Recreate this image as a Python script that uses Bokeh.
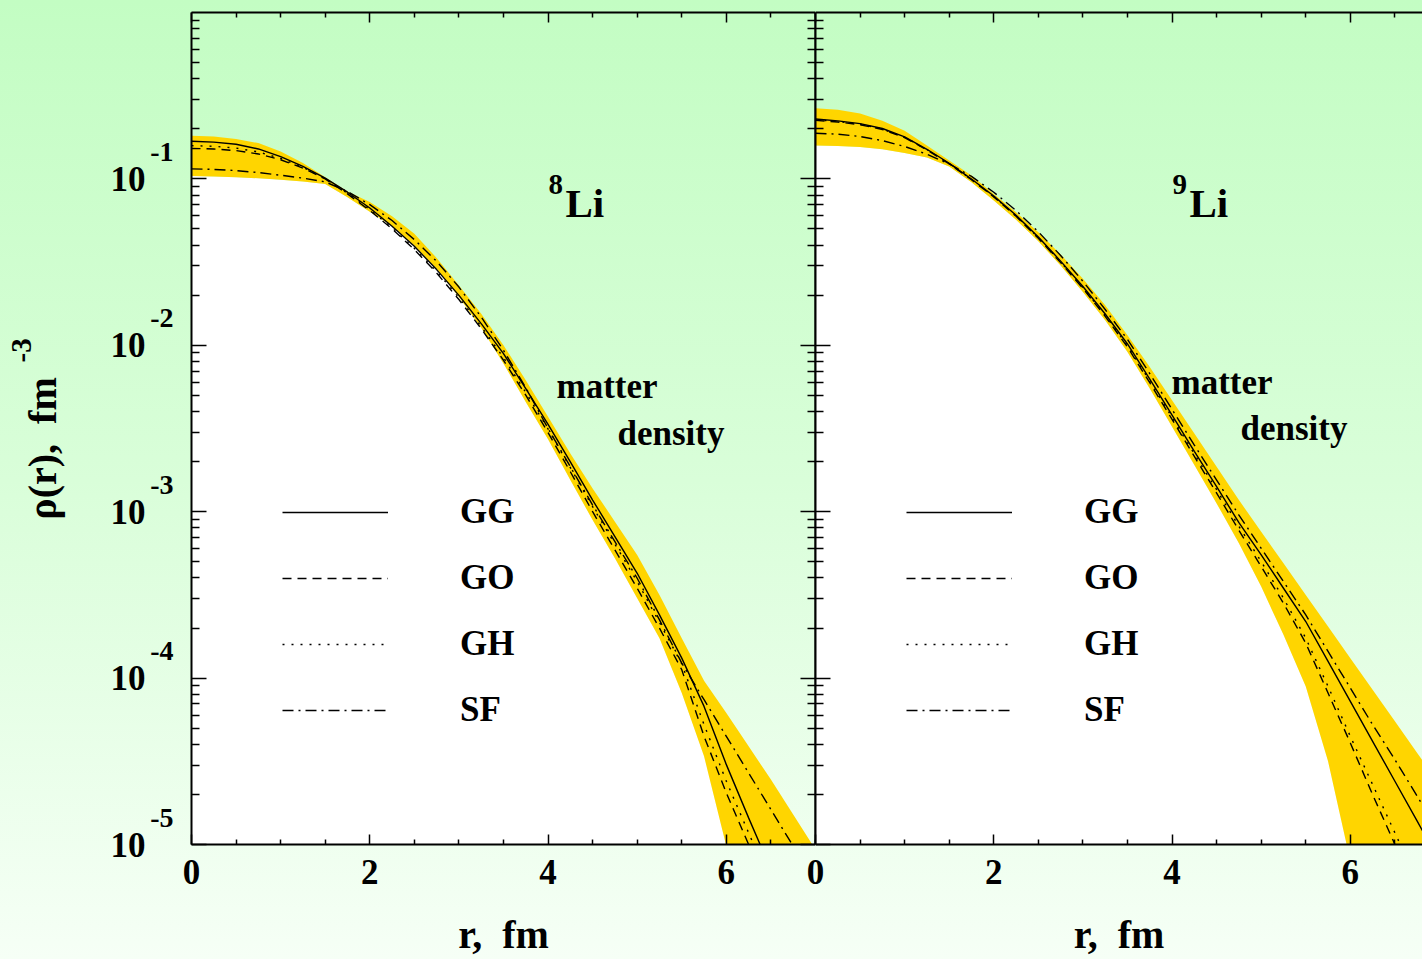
from bokeh.plotting import figure
from bokeh.models import (Range1d, FixedTicker, LinearAxis, LogAxis, Label, Title,
                          Legend, LegendItem)
from bokeh.layouts import row
from bokeh.embed import file_html
from bokeh.resources import INLINE

FONT = "Liberation Serif"
BAND_COLOR = "#FFD500"
GRADIENT = "linear-gradient(to bottom, #c3fdc3 0%, #d9fed9 50%, #f6fff6 100%)"
NBSP = "\u00a0"

# ---------------- data (log10 of rho [fm^-3]) ----------------
r_fm = [0.0, 0.25, 0.5, 0.75, 1.0, 1.25, 1.5, 1.75, 2.0, 2.25, 2.5, 2.75, 3.0, 3.25,
        3.5, 3.75, 4.0, 4.25, 4.5, 4.75, 5.0, 5.25, 5.5, 5.75, 6.0, 6.25, 6.5, 6.75, 7.0]

li8_band_hi = [-0.740, -0.745, -0.760, -0.785, -0.835, -0.905, -0.990, -1.076, -1.139, -1.225,
               -1.330, -1.475, -1.640, -1.810, -2.000, -2.210, -2.430, -2.650, -2.860, -3.060,
               -3.260, -3.500, -3.760, -4.016, -4.210, -4.410, -4.610, -4.820, -5.030]
li8_band_lo = [-0.983, -0.985, -0.990, -0.996, -1.005, -1.015, -1.030, -1.110, -1.197, -1.283,
               -1.400, -1.540, -1.710, -1.895, -2.110, -2.340, -2.565, -2.810, -3.050, -3.280,
               -3.520, -3.760, -4.090, -4.470, -5.010, -5.600, -6.200, -6.800, -7.400]
li8_gg = [-0.774, -0.779, -0.792, -0.820, -0.866, -0.925, -0.995, -1.080, -1.175, -1.285,
          -1.405, -1.545, -1.700, -1.870, -2.050, -2.260, -2.475, -2.700, -2.930, -3.150,
          -3.370, -3.620, -3.880, -4.170, -4.520, -4.840, -5.150, -5.450, -5.750]
li8_go = [-0.817, -0.820, -0.830, -0.850, -0.885, -0.935, -1.000, -1.090, -1.190, -1.300,
          -1.425, -1.565, -1.725, -1.900, -2.090, -2.300, -2.525, -2.760, -3.000, -3.230,
          -3.460, -3.700, -3.950, -4.350, -4.690, -5.000, -5.320, -5.640, -5.960]
li8_gh = [-0.800, -0.804, -0.815, -0.838, -0.877, -0.930, -0.998, -1.086, -1.184, -1.294,
          -1.417, -1.556, -1.714, -1.887, -2.074, -2.283, -2.503, -2.735, -2.970, -3.195,
          -3.420, -3.665, -3.915, -4.280, -4.620, -4.930, -5.240, -5.550, -5.860]
li8_sf = [-0.940, -0.943, -0.950, -0.962, -0.978, -0.995, -1.018, -1.075, -1.155, -1.250,
          -1.365, -1.495, -1.650, -1.830, -2.030, -2.255, -2.500, -2.730, -2.960, -3.180,
          -3.400, -3.650, -3.910, -4.130, -4.350, -4.570, -4.790, -5.010, -5.230]

li9_band_hi = [-0.576, -0.585, -0.607, -0.650, -0.710, -0.800, -0.890, -0.980, -1.090, -1.200,
               -1.320, -1.455, -1.600, -1.760, -1.940, -2.130, -2.330, -2.530, -2.730, -2.930,
               -3.120, -3.310, -3.500, -3.690, -3.880, -4.070, -4.260, -4.450, -4.640]
li9_band_lo = [-0.799, -0.802, -0.808, -0.822, -0.845, -0.872, -0.925, -1.020, -1.130, -1.245,
               -1.375, -1.520, -1.680, -1.850, -2.040, -2.260, -2.490, -2.720, -2.950, -3.190,
               -3.450, -3.740, -4.050, -4.500, -5.100, -5.700, -6.300, -6.900, -7.500]
li9_gg = [-0.640, -0.651, -0.668, -0.697, -0.747, -0.822, -0.906, -1.001, -1.103, -1.219,
          -1.349, -1.494, -1.647, -1.812, -1.992, -2.203, -2.420, -2.637, -2.849, -3.066,
          -3.260, -3.460, -3.660, -3.900, -4.140, -4.380, -4.620, -4.860, -5.100]
li9_go = [-0.648, -0.658, -0.674, -0.703, -0.752, -0.826, -0.910, -1.005, -1.108, -1.225,
          -1.357, -1.503, -1.658, -1.826, -2.010, -2.225, -2.445, -2.668, -2.888, -3.112,
          -3.330, -3.550, -3.790, -4.090, -4.390, -4.700, -5.000, -5.300, -5.600]
li9_gh = [-0.645, -0.655, -0.671, -0.700, -0.750, -0.824, -0.908, -1.003, -1.106, -1.222,
          -1.353, -1.499, -1.653, -1.820, -2.002, -2.215, -2.433, -2.653, -2.868, -3.088,
          -3.300, -3.520, -3.760, -4.050, -4.350, -4.640, -4.930, -5.220, -5.510]
li9_sf = [-0.726, -0.731, -0.745, -0.770, -0.805, -0.852, -0.910, -0.985, -1.080, -1.190,
          -1.318, -1.460, -1.615, -1.785, -1.965, -2.170, -2.385, -2.600, -2.810, -3.020,
          -3.220, -3.420, -3.620, -3.840, -4.060, -4.280, -4.490, -4.710, -4.930]

series_names = ["GG", "GO", "GH", "SF"]
nuclei = [("8", "Li"), ("9", "Li")]

x_tick_values = [0, 2, 4, 6]
x_tick_labels = ["0", "2", "4", "6"]
x_minor_ticks = [0.5, 1.0, 1.5, 2.5, 3.0, 3.5, 4.5, 5.0, 5.5, 6.5, 7.0]
y_tick_values = [1e-5, 1e-4, 1e-3, 1e-2, 1e-1]
y_tick_base = ["10", "10", "10", "10", "10"]
y_tick_exponents = ["-5", "-4", "-3", "-2", "-1"]
y_minor_ticks = [m * 10.0 ** e for e in range(-5, 0) for m in range(2, 10)]

x_title = "r," + NBSP + NBSP + "fm"
y_title = "ρ(r)," + NBSP + NBSP + "fm"
y_title_exp = "-3"
note_lines = ["matter", "density"]

LINE_DASH = {"GG": "solid", "GO": "9 6", "GH": "2 7", "SF": "11 5 2 5"}

# ---------------- layout constants ----------------
TOP, BOTTOM, HEIGHT = 12, 115, 959
LEFT1, W1 = 191, 815
OVERLAP = 20               # right panel's transparent left border overlaps the left panel
W2 = 607 + OVERLAP
PX_PER_FM = 89.14
PX_PER_DECADE = 166.4
EXP_RAISE_PX = 27          # superscript sits this far above its tick


def to_rho(logs):
    return [10.0 ** v for v in logs]


def style_axis(ax, ticks, major_in, minor_in, labels):
    ax.axis_line_width = 2
    ax.axis_line_color = "black"
    ax.major_tick_in = major_in
    ax.major_tick_out = 0
    ax.minor_tick_in = minor_in
    ax.minor_tick_out = 0
    ax.major_tick_line_width = 1.5
    ax.minor_tick_line_width = 1.5
    ax.major_tick_line_color = "black"
    ax.minor_tick_line_color = "black"
    ax.major_label_text_font = FONT
    ax.major_label_text_font_style = "bold"
    ax.major_label_text_color = "black"
    if labels:
        ax.major_label_text_font_size = "35px"
    else:
        ax.major_label_overrides = {t: "" for t in ticks}
        ax.major_label_text_font_size = "8px"
        ax.major_label_standoff = 0


def label_only_axis(ticks, labels, size, standoff):
    ax = LogAxis(ticker=FixedTicker(ticks=ticks, minor_ticks=[]))
    ax.axis_line_color = None
    ax.major_tick_line_color = None
    ax.minor_tick_line_color = None
    ax.major_tick_in = 0
    ax.major_tick_out = 0
    ax.minor_tick_in = 0
    ax.minor_tick_out = 0
    ax.major_label_overrides = dict(zip(ticks, labels))
    ax.major_label_text_font = FONT
    ax.major_label_text_font_style = "bold"
    ax.major_label_text_font_size = size
    ax.major_label_text_color = "black"
    ax.major_label_standoff = standoff
    return ax


def bold_label(p, x, y, text, size, **kw):
    p.add_layout(Label(x=x, y=y, x_units="screen", y_units="screen", text=text,
                       text_font=FONT, text_font_style="bold", text_font_size=size,
                       text_color="black", text_baseline="middle", **kw))


def make_panel(width, left_border, x_end, band_lo, band_hi, curves, nucleus, note_xy, first):
    kw = {}
    if first:
        kw["styles"] = {"background": GRADIENT}
    else:
        kw["margin"] = (0, 0, 0, -OVERLAP)
    p = figure(width=width, height=HEIGHT, min_border_left=left_border, min_border_right=0,
               min_border_top=TOP, min_border_bottom=BOTTOM,
               x_range=Range1d(0, x_end), y_range=Range1d(1e-5, 1.0), y_axis_type="log",
               output_backend="svg", toolbar_location=None,
               background_fill_color=None, border_fill_color=None, outline_line_color=None,
               **kw)
    p.xgrid.visible = False
    p.ygrid.visible = False

    lo = to_rho(band_lo)
    hi = to_rho(band_hi)
    floor = [1e-8] * len(r_fm)
    p.varea(x=r_fm, y1=floor, y2=lo, fill_color="white")
    p.varea(x=r_fm, y1=lo, y2=hi, fill_color=BAND_COLOR)

    items = []
    for name, logs in zip(series_names, curves):
        ln = p.line(x=r_fm, y=to_rho(logs), line_color="black", line_width=1.4,
                    line_dash=LINE_DASH[name])
        items.append(LegendItem(label=name, renderers=[ln]))

    # x axes
    xb = p.xaxis[0]
    xb.ticker = FixedTicker(ticks=x_tick_values, minor_ticks=x_minor_ticks)
    style_axis(xb, x_tick_values, 10, 5, True)
    xb.major_label_overrides = dict(zip(x_tick_values, x_tick_labels))
    xb.major_label_standoff = 15
    xb.axis_label = x_title
    xb.axis_label_text_font = FONT
    xb.axis_label_text_font_style = "bold"
    xb.axis_label_text_font_size = "40px"
    xb.axis_label_text_color = "black"
    xb.axis_label_standoff = 25

    xt = LinearAxis(ticker=FixedTicker(ticks=x_tick_values, minor_ticks=x_minor_ticks))
    style_axis(xt, x_tick_values, 10, 5, False)
    p.add_layout(xt, "above")

    # y axes
    ya = p.yaxis[0]
    ya.ticker = FixedTicker(ticks=y_tick_values, minor_ticks=y_minor_ticks)
    style_axis(ya, y_tick_values, 15, 8, False)
    if first:
        exp_positions = [v * 10 ** (EXP_RAISE_PX / PX_PER_DECADE) for v in y_tick_values]
        yb = label_only_axis(exp_positions, y_tick_exponents, "28px", 18)
        p.add_layout(yb, "left")
        yc = label_only_axis(y_tick_values, y_tick_base, "35px", 2)
        yc.axis_label = y_title + NBSP * 4
        yc.axis_label_text_font = FONT
        yc.axis_label_text_font_style = "bold"
        yc.axis_label_text_font_size = "40px"
        yc.axis_label_text_color = "black"
        yc.axis_label_standoff = 43
        p.add_layout(yc, "left")
        p.add_layout(Title(text=y_title_exp, align="left", offset=482, standoff=-29,
                           vertical_align="bottom", text_font=FONT, text_font_style="bold",
                           text_font_size="29px", text_color="black"), "left")
        yr = LogAxis(ticker=FixedTicker(ticks=y_tick_values, minor_ticks=y_minor_ticks))
        style_axis(yr, y_tick_values, 15, 8, False)
        p.add_layout(yr, "right")

    # in-frame texts
    bold_label(p, 357, 660, nucleus[0], "29px", text_align="left")
    bold_label(p, 374, 642, nucleus[1], "41px", text_align="left")
    (mx, my), (dx, dy) = note_xy
    bold_label(p, mx, my, note_lines[0], "35px", text_align="left")
    bold_label(p, dx, dy, note_lines[1], "35px", text_align="left")

    legend = Legend(items=items, location=(91, 114), orientation="vertical",
                    glyph_width=106, glyph_height=40, label_height=40, label_standoff=72,
                    spacing=26, padding=0, margin=0, border_line_alpha=0,
                    background_fill_alpha=0, label_text_font=FONT,
                    label_text_font_style="bold", label_text_font_size="35px",
                    label_text_color="black")
    p.add_layout(legend)
    return p


p1 = make_panel(W1, LEFT1, (W1 - LEFT1) / PX_PER_FM, li8_band_lo, li8_band_hi,
                [li8_gg, li8_go, li8_gh, li8_sf], nuclei[0],
                ((365, 458), (426, 411)), True)
p2 = make_panel(W2, OVERLAP, (W2 - OVERLAP) / PX_PER_FM, li9_band_lo, li9_band_hi,
                [li9_gg, li9_go, li9_gh, li9_sf], nuclei[1],
                ((356, 462), (425, 416)), False)

layout = row(p1, p2, spacing=0, styles={"background": GRADIENT})
open("out.html", "w").write(file_html(layout, INLINE))
